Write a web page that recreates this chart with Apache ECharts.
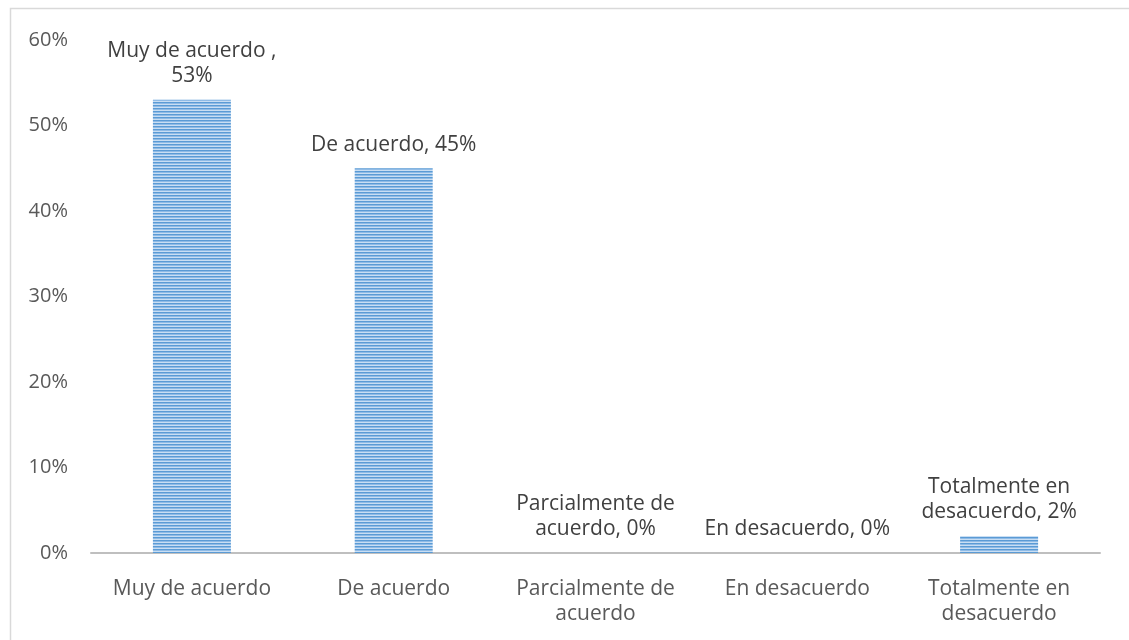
<!DOCTYPE html>
<html>
<head>
<meta charset="utf-8">
<script src="https://cdn.jsdelivr.net/npm/echarts@6/dist/echarts.min.js"></script>
<style>
html,body{margin:0;padding:0;background:#fff;}
#chart{width:1129px;height:640px;}
</style>
</head>
<body>
<div id="chart"></div>
<script>
const categories = ['Muy de acuerdo', 'De acuerdo', 'Parcialmente de\nacuerdo', 'En desacuerdo', 'Totalmente en\ndesacuerdo'];
const values = [53, 45, 0, 0, 2];
const dataLabels = ['Muy de acuerdo ,\n53%', 'De acuerdo, 45%', 'Parcialmente de\nacuerdo, 0%', 'En desacuerdo, 0%', 'Totalmente en\ndesacuerdo, 2%'];
const yTicks = [0, 10, 20, 30, 40, 50, 60];

function makePattern() {
  const c = document.createElement('canvas');
  c.width = 4; c.height = 3;
  const ctx = c.getContext('2d');
  ctx.fillStyle = '#5b9bd5';
  ctx.fillRect(0, 0, 4, 1);
  ctx.fillStyle = '#8fbbe6';
  ctx.fillRect(0, 1, 4, 1);
  ctx.fillStyle = '#c9def3';
  ctx.fillRect(0, 2, 4, 1);
  return c;
}

const chart = echarts.init(document.getElementById('chart'), null, {renderer: 'canvas'});
const font = '"Open Sans", sans-serif';
chart.setOption({
  animation: false,
  graphic: [{
    type: 'rect', shape: {x: 10.5, y: 8.5, width: 1300, height: 800},
    style: {fill: 'none', stroke: '#d9d9d9', lineWidth: 1.5}, silent: true
  }],
  grid: {left: 91, right: 29, top: 40, bottom: 87, containLabel: false},
  xAxis: {
    type: 'category',
    data: categories,
    axisLine: {lineStyle: {color: '#bfbfbf', width: 2}},
    axisTick: {show: false},
    axisLabel: {color: '#595959', fontSize: 21, fontFamily: font, lineHeight: 25, margin: 24, interval: 0}
  },
  yAxis: {
    type: 'value',
    min: yTicks[0], max: yTicks[yTicks.length - 1], interval: 10,
    splitLine: {show: false},
    axisLine: {show: false},
    axisTick: {show: false},
    axisLabel: {color: '#595959', fontSize: 20, fontFamily: font, margin: 23, formatter: v => v + '%'}
  },
  series: [{
    type: 'bar',
    data: values,
    barWidth: 78,
    itemStyle: {color: {image: makePattern(), repeat: 'repeat'}},
    label: {
      show: true, position: 'top', distance: 11,
      color: '#404040', fontSize: 21, fontFamily: font, lineHeight: 25,
      formatter: p => dataLabels[p.dataIndex]
    }
  }]
});
</script>
</body>
</html>
